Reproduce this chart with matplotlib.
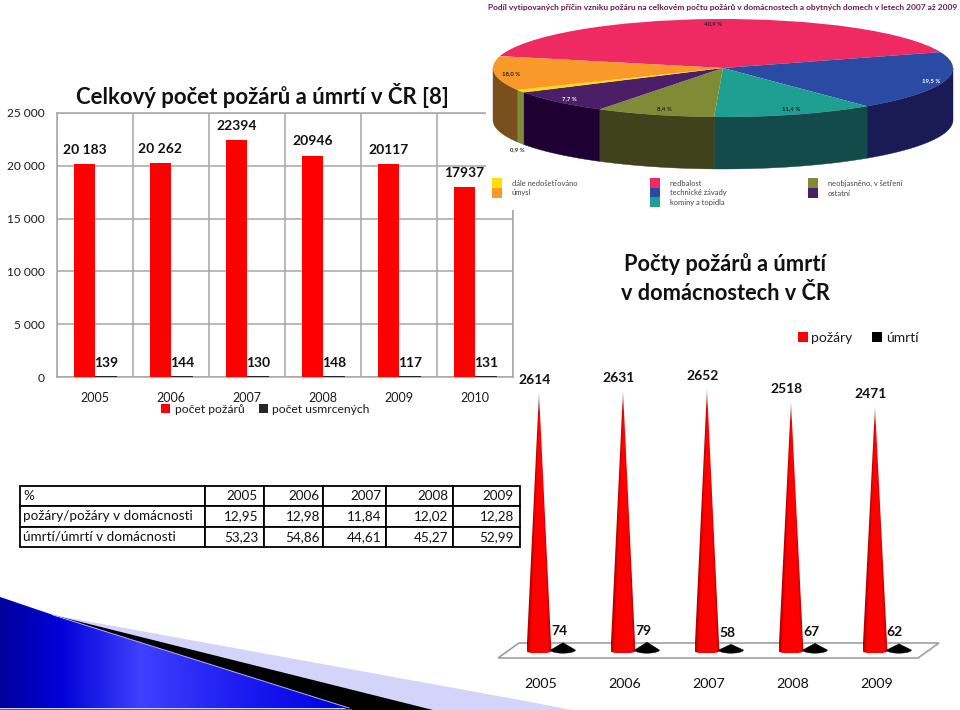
import numpy as np
import matplotlib
matplotlib.use("Agg")
import matplotlib.pyplot as plt
from matplotlib.colors import LinearSegmentedColormap, to_rgb
from matplotlib.patches import Polygon, Rectangle

plt.rcParams['font.family'] = ['Lato', 'DejaVu Sans']

# ---- data ----
bar_years = ['2005', '2006', '2007', '2008', '2009', '2010']
fires_total = [20183, 20262, 22394, 20946, 20117, 17937]
fires_total_labels = ['20 183', '20 262', '22394', '20946', '20117', '17937']
deaths_total = [139, 144, 130, 148, 117, 131]

home_years = ['2005', '2006', '2007', '2008', '2009']
fires_home = [2614, 2631, 2652, 2518, 2471]
deaths_home = [74, 79, 58, 67, 62]

table_header = ['%', '2005', '2006', '2007', '2008', '2009']
table_row1 = ['požáry/požáry v domácnosti', '12,95', '12,98', '11,84', '12,02', '12,28']
table_row2 = ['úmrtí/úmrtí v domácnosti', '53,23', '54,86', '44,61', '45,27', '52,99']

pie_values = [40.9, 19.5, 11.4, 8.4, 7.7, 0.9, 11.3]
pie_texts = ['40,9 %', '19,5 %', '11,4 %', '8,4 %', '7,7 %', '0,9 %', '18,0 %']
pie_names = ['nedbalost', 'technické závady', 'komíny a topidla',
             'neobjasněno, v šetření', 'ostatní', 'dále nedošetřováno', 'úmysl']
pie_top = ['#ef2a63', '#2b4aa3', '#1f9e92', '#7f8b35', '#4b1f68', '#ffde00', '#f9992a']
pie_side = ['#8a1a3a', '#1a1a55', '#134b4a', '#3f421a', '#1f0033', '#7d8a3a', '#7a4f1e']

W, H = 960, 710
fig = plt.figure(figsize=(W / 100, H / 100), dpi=100, facecolor='white')


def ax_px(x0, y0, x1, y1, **kw):
    return fig.add_axes([x0 / W, 1 - y1 / H, (x1 - x0) / W, (y1 - y0) / H], **kw)


# ---- page background decoration (pixel coordinates) ----
bg = ax_px(0, 0, W, H, zorder=0)
bg.set_xlim(0, W)
bg.set_ylim(H, 0)
bg.axis('off')
lav = Polygon([(0, 597), (53, 615), (520, 700), (572, 710), (0, 710)], fc='#d4d4fa', ec='none')
bg.add_patch(lav)
blk = Polygon([(53, 615), (433, 710), (350, 710)], fc='black', ec='none')
bg.add_patch(blk)
blue_cmap = LinearSegmentedColormap.from_list(
    'b', [(0, '#00009a'), (0.17, '#0000d8'), (0.40, '#4040ff'), (0.72, '#1818f0'), (1, '#0000e0')])
im = bg.imshow(np.linspace(0, 1, 256).reshape(1, -1), extent=(0, 350, 710, 597), aspect='auto',
               cmap=blue_cmap, zorder=2)
clip = Polygon([(0, 597), (53, 615), (349, 708), (0, 708)], transform=bg.transData, fc='none', ec='none')
bg.add_patch(clip)
im.set_clip_path(clip)
bg.add_patch(Rectangle((0, 708.5), 352, 2, fc='#5050e0', ec='none', zorder=3))
bg.plot([53, 349], [615, 708], color='#b0b0ff', lw=0.7, zorder=3)
bg.add_patch(Polygon([(498, 658), (918, 658), (939, 643), (519, 643)], fc='white', ec='#a0a0a0', lw=1.2, zorder=4))
bg.set_xlim(0, W)
bg.set_ylim(H, 0)

# ---- bar chart ----
ax = ax_px(57.3, 112.7, 513, 377.3, zorder=1)
x = np.arange(len(bar_years)) + 0.5
bw = 0.283
b1 = ax.bar(x - bw / 2, fires_total, bw, color='#ff0000', zorder=3, label='počet požárů')
b2 = ax.bar(x + bw / 2, deaths_total, bw, color='#262626', zorder=3, label='počet usmrcených')
ax.set_xlim(0, 6)
ax.set_ylim(0, 25000)
ax.set_yticks(range(0, 25001, 5000))
ax.set_yticklabels(['0', '5 000', '10 000', '15 000', '20 000', '25 000'])
ax.set_xticks(x)
ax.set_xticklabels(bar_years)
ax.set_xticks(np.arange(7), minor=True)
ax.grid(True, axis='y', color='#a6a6a6', lw=1.1, zorder=0)
ax.grid(True, axis='x', which='minor', color='#a6a6a6', lw=1.1, zorder=0)
ax.tick_params(axis='both', which='both', length=0)
ax.tick_params(axis='x', labelsize=9, pad=10.5, colors='#1a1a1a')
ax.tick_params(axis='y', labelsize=8.6, pad=9, colors='#1a1a1a')
for s in ax.spines.values():
    s.set_color('#a6a6a6')
    s.set_linewidth(1.1)
for xi, v, t in zip(x, fires_total, fires_total_labels):
    ax.annotate(t, (xi - bw / 2, v), xytext=(0, 10.2), textcoords='offset points', ha='center', va='center',
                fontsize=10, fontweight='bold', color='#111111', zorder=5)
for xi, v in zip(x, deaths_total):
    ax.annotate(str(v), (xi + bw / 2, v), xytext=(0, 9.2), textcoords='offset points', ha='center', va='center',
                fontsize=10, fontweight='bold', color='#111111', zorder=5)
leg = ax.legend(handles=[b1, b2], ncol=2, frameon=False, fontsize=8.7, loc='center',
                bbox_to_anchor=((265.5 - 57.3) / (513 - 57.3), -(409.5 - 377.3) / (377.3 - 112.7)),
                handlelength=0.75, handleheight=0.75, handletextpad=0.35, columnspacing=1.2,
                labelcolor='#1a1a1a')
fig.text(262 / W, 1 - 96 / H, 'Celkový počet požárů a úmrtí v ČR [8]', ha='center', va='center',
         fontsize=15.9, fontweight='bold', color='#111111', zorder=6)

# ---- table ----
tab_ax = ax_px(20, 486, 520, 547, zorder=1)
tab_ax.axis('off')
edges = np.array([20, 204.5, 263.5, 323, 386, 453, 520])
col_px = np.diff(edges)
widths = col_px / 500
col_gap = [3, 5.5, 3, 4.5, 5, 6]
tbl = tab_ax.table(cellText=[table_header, table_row1, table_row2], colWidths=list(widths), bbox=[0, 0, 1, 1])
tbl.auto_set_font_size(False)
tbl.set_fontsize(9.7)
for (r, c), cell in tbl.get_celld().items():
    cell.set_edgecolor('black')
    cell.set_linewidth(1.3)
    cell.PAD = col_gap[c] / col_px[c]
    cell.get_text().set_ha('left' if c == 0 else 'right')
    cell._loc = 'left' if c == 0 else 'right'
    cell.get_text().set_color('#111111')

# ---- 3D pie ----
PX0, PY0, PX1, PY1 = 486, 0, 960, 210
CX, CY, RX, RY, DEPTH = 723, 68, 230, 49, 52
pa = ax_px(PX0, PY0, PX1, PY1, zorder=2)
pa.set_facecolor('white')
start = 166
wedges, _ = pa.pie(pie_values, colors=pie_top, startangle=start, counterclock=False, radius=1,
                   normalize=True, wedgeprops=dict(lw=0), frame=False)
pa.set_frame_on(True)
for s in pa.spines.values():
    s.set_visible(False)
pa.set_aspect('auto')
pa.set_xlim((PX0 - CX) / RX, (PX1 - CX) / RX)
pa.set_ylim(-(PY1 - CY) / RY, (CY - PY0) / RY)
pa.set_xticks([])
pa.set_yticks([])
d = DEPTH / RY
angles = start - np.cumsum([0] + pie_values) / sum(pie_values) * 360
for a0, a1, col in zip(angles[:-1], angles[1:], pie_side):
    hi = a0
    lo = a1
    # front half of the rim: angles in [-180, 0] (mod 360)
    for k in (0, -360):
        h = min(hi + k, 0)
        l = max(lo + k, -180)
        if h > l:
            t = np.radians(np.linspace(l, h, 60))
            xs, ys = np.cos(t), np.sin(t)
            pa.add_patch(Polygon(np.r_[np.c_[xs, ys], np.c_[xs[::-1], ys[::-1] - d]], fc=col, ec=col, lw=0.3, zorder=0.5))
for w in wedges:
    w.set_zorder(2)

# ---- pie texts and legend (pixel coordinates, on top) ----
top = ax_px(0, 0, W, H, zorder=5)
top.set_xlim(0, W)
top.set_ylim(H, 0)
top.axis('off')
pie_label_pos = [(713, 24), (931, 81), (791, 109), (664, 109), (569, 99), (517, 150), (511, 74)]
pie_label_col = ['#222222', 'white', '#222222', '#222222', 'white', '#333333', '#222222']
for t, (px, py), c in zip(pie_texts, pie_label_pos, pie_label_col):
    top.text(px, py, t, ha='center', va='center', fontsize=4.3, fontweight='bold', color=c)
top.text(723, 7.5, 'Podíl vytipovaných příčin vzniku požáru na celkovém počtu požárů v domácnostech a obytných domech v letech 2007 až 2009',
         ha='center', va='center', fontsize=6.05, fontweight='bold', color='#6a1b4d')
legend_layout = [(655, 183), (655, 193), (655, 202), (813, 183), (813, 193), (497, 183), (497, 193)]
for (lx, ly), n, c in zip(legend_layout, pie_names, pie_top):
    top.add_patch(Rectangle((lx - 5, ly - 5), 10, 10, fc=c, ec='none'))
    top.text(lx + 15, ly, n, ha='left', va='center', fontsize=5.4, color='#444444')

# ---- cone chart ----
SC = 0.0991
X0, SP, BASE = 539, 84, 651
cx0, cy0, cx1, cy1 = 497, 380, 939, 660
ca = ax_px(cx0, cy0, cx1, cy1, zorder=3)
ca.patch.set_alpha(0)
ca.set_xlim((cx0 - X0) / SP, (cx1 - X0) / SP)
ca.set_ylim((BASE - cy1) / SC, (BASE - cy0) / SC)
for s in ca.spines.values():
    s.set_visible(False)
ca.set_yticks([])
ca.set_xticks(np.arange(len(home_years)) + 0.02)
ca.set_xticklabels(home_years)
ca.tick_params(axis='x', length=0, pad=13, labelsize=10.3, colors='#111111')

rw = 12.4 / SP
rh = 2.5 / SC
red_mid = np.array(to_rgb('#ff0000'))
red_edge = np.array(to_rgb('#b00000'))
tip_col = np.array(to_rgb('#c8a0a0'))
for i, v in enumerate(fires_home):
    t = np.radians(np.linspace(180, 360, 40))
    arc = np.c_[i + rw * np.cos(t), rh * np.sin(t)]
    poly = Polygon(np.r_[arc, [[i, v]]], transform=ca.transData, fc='none', ec='none')
    ca.add_patch(poly)
    ny, nx = 400, 60
    ys = np.linspace(v, -rh, ny)
    xs = np.linspace(-rw, rw, nx)
    XX, YY = np.meshgrid(xs, ys)
    half = np.maximum(rw * (1 - YY / v), 1e-6)
    u = np.clip(np.abs(XX) / half, 0, 1)
    f = np.clip((u - 0.7) / 0.3, 0, 1)[..., None]
    rgb = red_mid * (1 - f) + red_edge * f
    fade = np.clip(1 - (v - YY) / (22 / SC), 0, 1)[..., None]
    rgb = rgb * (1 - fade) + tip_col * fade
    img = ca.imshow(rgb, extent=(i - rw, i + rw, -rh, v), origin='upper', aspect='auto', zorder=2)
    img.set_clip_path(poly)
    ca.annotate(str(v), (i, v), xytext=(-3, 8.8), textcoords='offset points', ha='center', va='center',
                fontsize=10, fontweight='bold', color='#111111')

bx = 24 / SP
bh = 3.2 / SC
lift = 1 / SC
for i, v in enumerate(deaths_home):
    t = np.radians(np.linspace(180, 360, 40))
    arc = np.c_[i + bx + rw * np.cos(t), lift + bh * np.sin(t)]
    ca.add_patch(Polygon(np.r_[arc, [[i + bx, v + lift]]], fc='black', ec='black', lw=0.3, zorder=3))
    ca.annotate(str(v), (i + bx - 4 / SP, v), xytext=(0, 8.9), textcoords='offset points', ha='center', va='center',
                fontsize=10, fontweight='bold', color='#111111')
ca.set_xlim((cx0 - X0) / SP, (cx1 - X0) / SP)
ca.set_ylim((BASE - cy1) / SC, (BASE - cy0) / SC)

red_h = Rectangle((0, 0), 1, 1, fc='#ff0000')
blk_h = Rectangle((0, 0), 1, 1, fc='black')
ca.legend([red_h, blk_h], ['požáry', 'úmrtí'], ncol=2, frameon=False, fontsize=10, loc='center',
          bbox_to_anchor=((858 - cx0) / (cx1 - cx0), (cy1 - 338) / (cy1 - cy0)),
          handlelength=0.7, handleheight=0.7, handletextpad=0.25, columnspacing=1.45, labelcolor='#1a1a1a')
fig.text(725 / W, 1 - 264 / H, 'Počty požárů a úmrtí', ha='center', va='center', fontsize=15.7,
         fontweight='bold', color='#111111')
fig.text(725 / W, 1 - 293 / H, 'v domácnostech v ČR', ha='center', va='center', fontsize=15.7,
         fontweight='bold', color='#111111')

fig.savefig('out.png', dpi=100)
